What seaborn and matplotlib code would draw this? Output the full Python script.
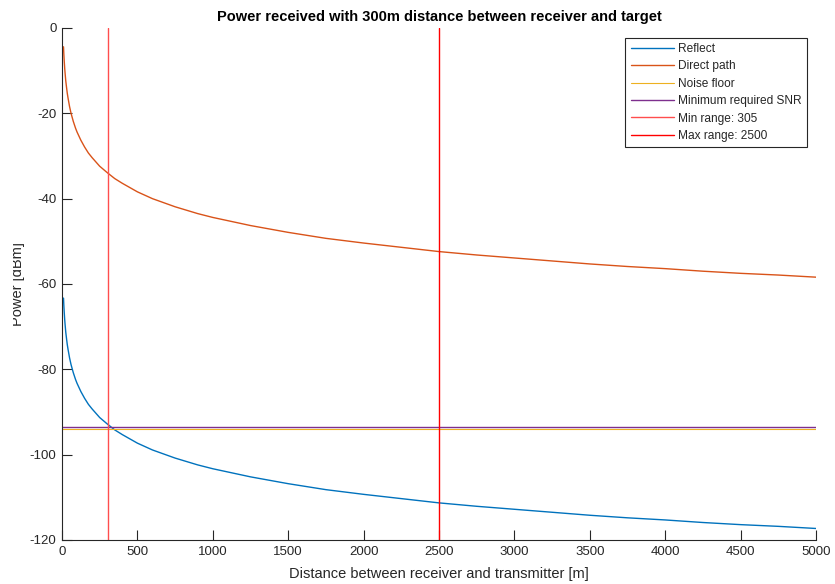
import matplotlib
matplotlib.use("Agg")
import matplotlib.pyplot as plt
import seaborn as sns
import pandas as pd
from matplotlib.patches import Rectangle

# Distance between receiver and transmitter [m]
distance = [10, 12, 15, 18, 20, 25, 30, 35, 40, 50, 60, 75, 90, 100, 125, 150,
            175, 200, 250, 300, 350, 400, 500, 600, 750, 900, 1000, 1250, 1500,
            1750, 2000, 2250, 2500, 2750, 3000, 3250, 3500, 3750, 4000, 4250,
            4500, 4750, 5000]

# Received power [dBm]
reflect = [-63.3, -64.9, -66.8, -68.4, -69.3, -71.3, -72.8, -74.2, -75.3, -77.3,
           -78.9, -80.8, -82.4, -83.3, -85.2, -86.8, -88.2, -89.3, -91.3, -92.8,
           -94.2, -95.3, -97.3, -98.9, -100.8, -102.4, -103.3, -105.2, -106.8,
           -108.2, -109.3, -110.3, -111.3, -112.1, -112.8, -113.5, -114.2,
           -114.8, -115.3, -115.9, -116.4, -116.8, -117.3]
direct_path = [-4.4, -6.0, -7.9, -9.5, -10.4, -12.4, -13.9, -15.3, -16.4, -18.4,
               -20.0, -21.9, -23.5, -24.4, -26.3, -27.9, -29.3, -30.4, -32.4,
               -33.9, -35.3, -36.4, -38.4, -40.0, -41.9, -43.5, -44.4, -46.3,
               -47.9, -49.3, -50.4, -51.4, -52.4, -53.2, -53.9, -54.6, -55.3,
               -55.9, -56.4, -57.0, -57.5, -57.9, -58.4]

noise_floor = -93.9
min_required_snr = -93.5
min_range = 305
max_range = 2500

x_ticks = list(range(0, 5001, 500))
y_ticks = list(range(-120, 1, 20))

sns.set_theme(style="white")
plt.rcParams["font.family"] = ["Liberation Sans", "DejaVu Sans"]
plt.rcParams["axes.unicode_minus"] = False

dark = "#262626"
fig = plt.figure(figsize=(8.35, 5.84), dpi=100)
ax = fig.add_axes([62 / 835, 1 - 540 / 584, 754 / 835, 512 / 584])

df = pd.DataFrame({"d": distance, "reflect": reflect, "direct": direct_path})
sns.lineplot(data=df, x="d", y="reflect", ax=ax, color="#0072BD", lw=1.0,
             label="Reflect")
sns.lineplot(data=df, x="d", y="direct", ax=ax, color="#D95319", lw=1.0,
             label="Direct path")
ax.axhline(noise_floor, color="#EDB120", lw=0.8, label="Noise floor")
ax.axhline(min_required_snr, color="#7E2F8E", lw=1.0,
           label="Minimum required SNR")
ax.axvline(min_range, color="#FF4D4D", lw=1.0, label=f"Min range: {min_range}")
ax.axvline(max_range, color="#FF0000", lw=1.0, label=f"Max range: {max_range}")

ax.set_xlim(0, 5000)
ax.set_ylim(-120, 0)
ax.set_xticks(x_ticks)
ax.set_yticks(y_ticks)
ax.tick_params(axis="both", direction="in", length=7, width=0.8, colors=dark,
               labelsize=9.5, labelcolor=dark, pad=4, left=True, bottom=True)
for side in ("top", "right"):
    ax.spines[side].set_visible(False)
for side in ("left", "bottom"):
    ax.spines[side].set_color(dark)
    ax.spines[side].set_linewidth(0.8)

ax.set_xlabel("Distance between receiver and transmitter [m]", fontsize=10.5,
              color=dark, labelpad=7)
ax.set_ylabel("")
ax.set_title("Power received with 300m distance between receiver and target",
             fontsize=10.5, fontweight="bold", color="black", pad=5)

# y label sits at the left edge of the canvas, partly cut off
fig.text(18.5 / 835, 1 - 284 / 584, "Power [dBm]", rotation=90, ha="center",
         va="center", fontsize=10.5, color=dark)
fig.patches.append(Rectangle((0, 0), 13 / 835, 1, transform=fig.transFigure,
                             facecolor="white", edgecolor="none", zorder=10))

leg = ax.legend(loc="upper right", bbox_to_anchor=(0.988, 0.981), fontsize=8.6,
                frameon=True, fancybox=False, framealpha=1, edgecolor=dark,
                handlelength=3.6, handletextpad=0.35, borderpad=0.45,
                labelspacing=0.45, borderaxespad=0)
leg.get_frame().set_linewidth(0.8)

fig.savefig("out.png", dpi=100)
